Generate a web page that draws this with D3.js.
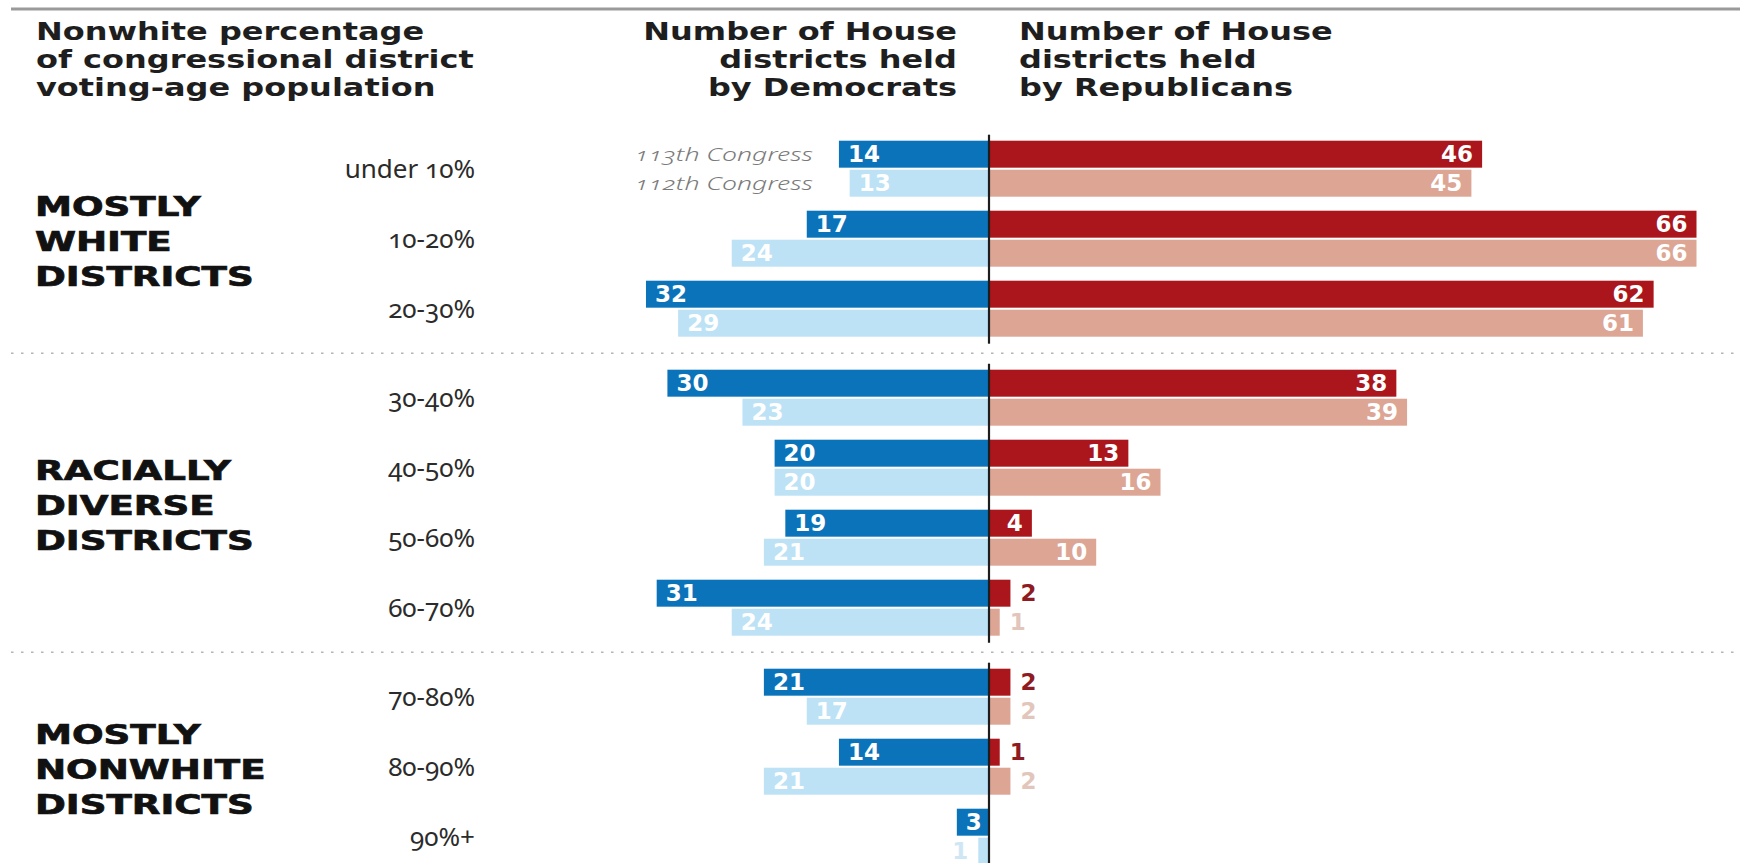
<!DOCTYPE html>
<html>
<head>
<meta charset="utf-8">
<script src="https://cdn.jsdelivr.net/npm/d3@7"></script>
<style>
  body { margin: 0; background: #fff; }
  svg { display: block; }
  .cat { font-family: "Noto Sans", sans-serif; font-size: 26px; fill: #2b2b2b; font-variant-numeric: oldstyle-nums; }
  .cong { font-family: "Noto Sans", sans-serif; font-style: italic; font-weight: 300; font-size: 19px; fill: #7a7a7a; font-variant-numeric: oldstyle-nums; }
  .head { font-family: "DejaVu Sans", sans-serif; font-weight: bold; font-size: 25px; fill: #1e1e1e; }
  .grp { font-family: "DejaVu Sans", sans-serif; font-weight: bold; font-size: 26px; fill: #111; stroke: #111; stroke-width: 0.7px; }
  .val { font-family: "DejaVu Sans", sans-serif; font-weight: bold; font-size: 23px; }
</style>
</head>
<body>
<svg id="chart" width="1740" height="863"></svg>
<script>
// Nonwhite share of voting-age population, by district band
const categories = ["under 10%", "10-20%", "20-30%", "30-40%", "40-50%", "50-60%", "60-70%", "70-80%", "80-90%", "90%+"];
const groupOf = [0, 0, 0, 1, 1, 1, 1, 2, 2, 2];
const groupNames = [
  ["MOSTLY", "WHITE", "DISTRICTS"],
  ["RACIALLY", "DIVERSE", "DISTRICTS"],
  ["MOSTLY", "NONWHITE", "DISTRICTS"]
];

// House seats held, 113th vs 112th Congress
const dem113 = [14, 17, 32, 30, 20, 19, 31, 21, 14, 3];
const dem112 = [13, 24, 29, 23, 20, 21, 24, 17, 21, 1];
const rep113 = [46, 66, 62, 38, 13, 4, 2, 2, 1, 0];
const rep112 = [45, 66, 61, 39, 16, 10, 1, 2, 2, 0];

const congresses = ["113th Congress", "112th Congress"];
const headLeft = ["Nonwhite percentage", "of congressional district", "voting-age population"];
const headDem = ["Number of House", "districts held", "by Democrats"];
const headRep = ["Number of House", "districts held", "by Republicans"];

const colors = {
  dem113: "#0b73ba", dem112: "#bde2f5",
  rep113: "#aa161b", rep112: "#dca594",
  dem113Out: "#0b5f99", dem112Out: "#cfe7f4",
  rep113Out: "#8e1b21", rep112Out: "#e2c6bb"
};

const svg = d3.select("#chart");
const W = 1740, H = 863;
const axisX = 989;

// horizontal value scale shared by both parties
const x = d3.scaleLinear().domain([0, 66]).range([0, 707.5]);

// row placement: uniform step plus an extra gap between groups
const rowY = d3.scaleLinear().domain([0, categories.length - 1]).range([140.7, 140.7 + 70 * (categories.length - 1)]);
const groupGap = 19;
const rowTop = i => rowY(i) + groupOf[i] * groupGap;
const sub = d3.scaleBand().domain(["113", "112"]).range([0, 56]).paddingInner(0.07);
const barH = sub.bandwidth();

// stretched text helper (wide display faces)
function wideText(sel, tx, ty, str, cls, anchor, sx) {
  return sel.append("text")
    .attr("class", cls)
    .attr("text-anchor", anchor)
    .attr("transform", `translate(${tx},${ty}) scale(${sx},1)`)
    .text(str);
}

// top rule
svg.append("line")
  .attr("x1", 11).attr("x2", W).attr("y1", 9).attr("y2", 9)
  .attr("stroke", "#9a9a9a").attr("stroke-width", 3);

// column headers
headLeft.forEach((t, k) => wideText(svg, 36, 40 + k * 28, t, "head", "start", 1.28));
headDem.forEach((t, k) => wideText(svg, 957, 40 + k * 28, t, "head", "end", 1.28));
headRep.forEach((t, k) => wideText(svg, 1019, 40 + k * 28, t, "head", "start", 1.28));

// group separators (dotted)
const groups = d3.range(groupNames.length).map(g => {
  const idx = categories.map((c, i) => i).filter(i => groupOf[i] === g);
  return { g, first: idx[0], last: idx[idx.length - 1] };
});
groups.slice(1).forEach(gr => {
  const prevBottom = rowTop(gr.first - 1) + 56;
  const y = (prevBottom + rowTop(gr.first)) / 2;
  svg.append("line")
    .attr("x1", 11).attr("x2", W).attr("y1", y).attr("y2", y)
    .attr("stroke", "#b4b4b4").attr("stroke-width", 1.6)
    .attr("stroke-dasharray", "2.5,7.5");
});

// group labels
groups.forEach(gr => {
  const yc = (rowTop(gr.first) + rowTop(gr.last) + 56) / 2;
  groupNames[gr.g].forEach((t, k) => {
    wideText(svg, 35, yc + 12 + (k - 1) * 35, t, "grp", "start", 1.43);
  });
});

// category labels
svg.append("g").selectAll("text")
  .data(categories)
  .join("text")
  .attr("class", "cat")
  .attr("x", 475)
  .attr("y", (d, i) => rowTop(i) + 28)
  .attr("dy", "0.36em")
  .attr("text-anchor", "end")
  .text(d => d);

// series definitions
const series = [
  { key: "113", side: -1, vals: dem113, fill: colors.dem113, out: colors.dem113Out },
  { key: "112", side: -1, vals: dem112, fill: colors.dem112, out: colors.dem112Out },
  { key: "113", side: 1, vals: rep113, fill: colors.rep113, out: colors.rep113Out },
  { key: "112", side: 1, vals: rep112, fill: colors.rep112, out: colors.rep112Out }
];

series.forEach(s => {
  const data = s.vals.map((v, i) => ({ v, i })).filter(d => d.v > 0);
  const g = svg.append("g");
  g.selectAll("rect")
    .data(data)
    .join("rect")
    .attr("x", d => s.side < 0 ? axisX - x(d.v) : axisX)
    .attr("y", d => rowTop(d.i) + sub(s.key))
    .attr("width", d => x(d.v))
    .attr("height", barH)
    .attr("fill", s.fill);

  g.selectAll("text")
    .data(data)
    .join("text")
    .attr("class", "val")
    .attr("y", d => rowTop(d.i) + sub(s.key) + barH / 2)
    .attr("dy", "0.36em")
    .attr("x", d => {
      const inside = d.v > 2;
      const end = axisX + s.side * x(d.v);
      return inside ? end - s.side * 9 : end + s.side * 10;
    })
    .attr("text-anchor", d => {
      const inside = d.v > 2;
      if (s.side < 0) return inside ? "start" : "end";
      return inside ? "end" : "start";
    })
    .attr("fill", d => d.v > 2 ? "#fff" : s.out)
    .text(d => d.v);
});

// congress key next to the first row
congresses.forEach((t, k) => {
  const key = k === 0 ? "113" : "112";
  wideText(svg, 813, rowTop(0) + sub(key) + barH / 2 + 7, t, "cong", "end", 1.4);
});

// centre axis, one segment per group
groups.forEach((gr, k) => {
  const y1 = rowTop(gr.first) - 6;
  const y2 = k === groups.length - 1 ? H : rowTop(gr.last) + 56 + 7;
  svg.append("line")
    .attr("x1", axisX).attr("x2", axisX)
    .attr("y1", y1).attr("y2", y2)
    .attr("stroke", "#1d1d1d").attr("stroke-width", 2.2);
});
</script>
</body>
</html>
